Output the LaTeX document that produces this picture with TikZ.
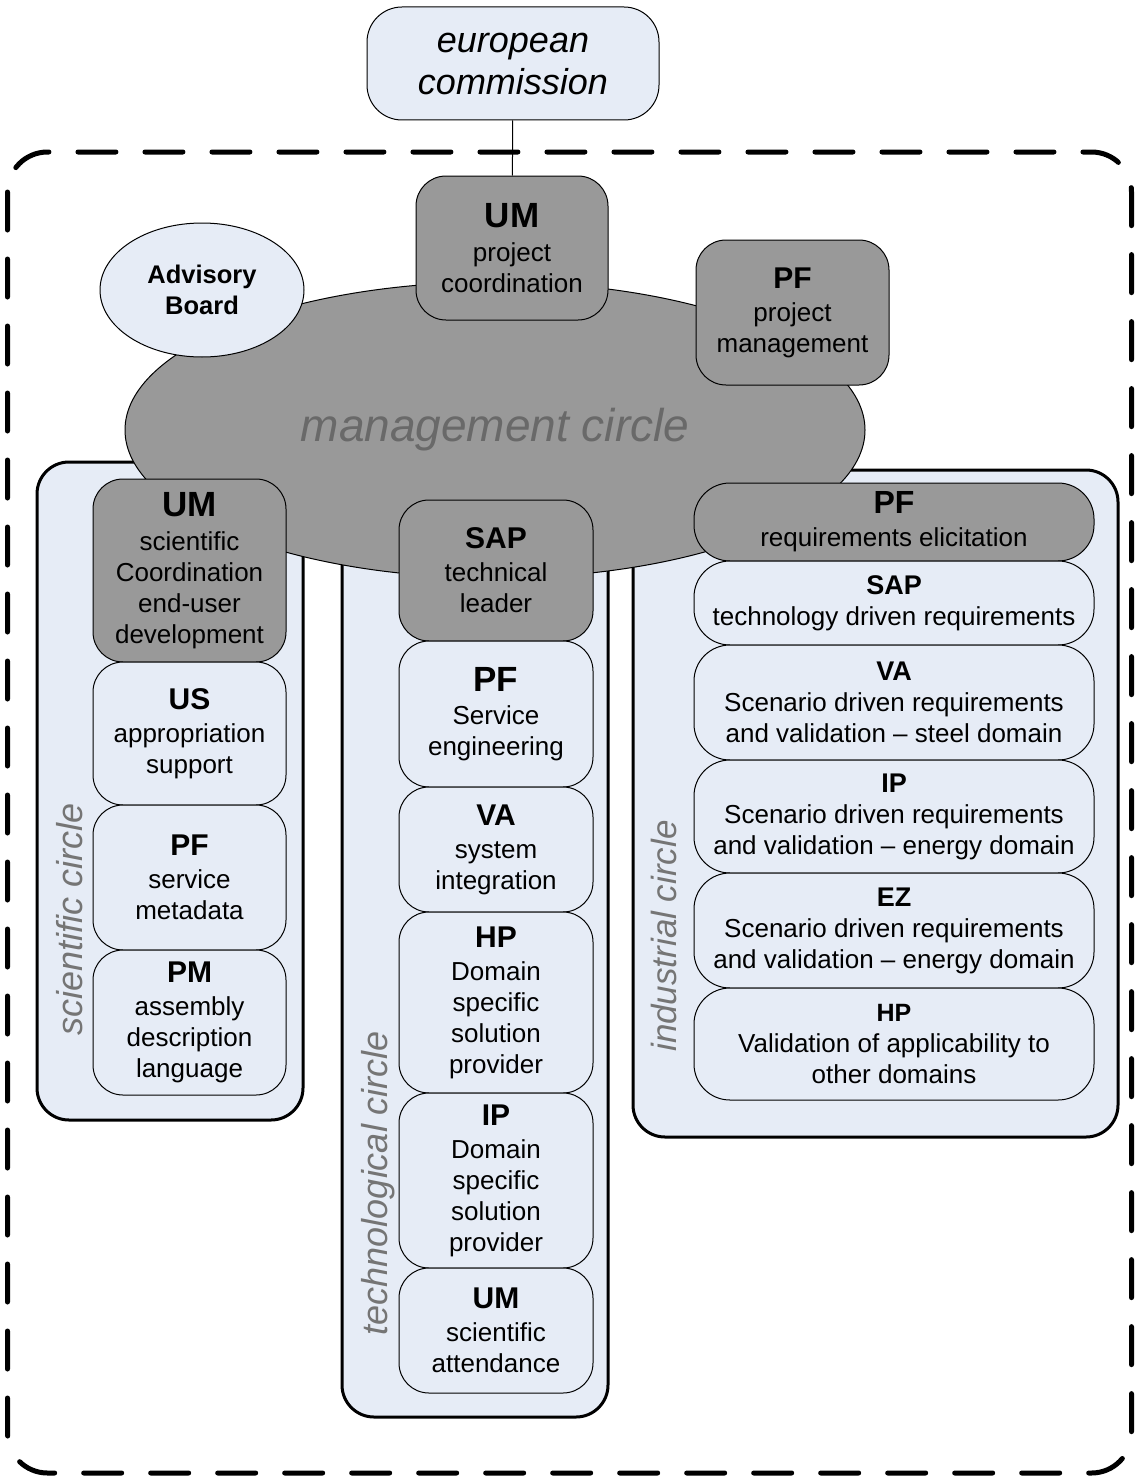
\documentclass[tikz,border=0pt]{standalone}
\usepackage{fontspec}
\setmainfont{Liberation Sans}
\usetikzlibrary{shapes.geometric}
\definecolor{lightbox}{HTML}{E6ECF6}
\definecolor{darkbox}{HTML}{999999}
\definecolor{circletext}{HTML}{757575}
\def\body{\fontsize{26}{31}\selectfont}
\def\hdr{\fontsize{30}{34}\selectfont\bfseries}
\def\bighdr{\fontsize{35}{38}\selectfont\bfseries}
\def\smhdr{\fontsize{27}{31}\selectfont\bfseries}
\tikzset{
	member/.style={draw=black, line width=1pt, fill=lightbox, rounded corners=30pt, inner sep=0pt, align=center, font=\body},
	lead/.style={member, fill=darkbox},
	scicol/.style={minimum width=193pt},
	techcol/.style={minimum width=194pt},
	indcol/.style={minimum width=400pt, rounded corners=36pt},
	circlebox/.style={draw=black, line width=3pt, fill=lightbox, rounded corners=32pt},
	circlelabel/.style={rotate=90, inner sep=0pt, text=circletext, font=\fontsize{36}{40}\selectfont\itshape},
}

\begin{document}
\begin{tikzpicture}[x=1pt, y=-1pt]
			%%%%% START %%%%%
			\useasboundingbox (0, 0) rectangle (1139, 1477);
			
			\draw[line width=5pt, dash pattern=on 38pt off 29pt, line cap=round, rounded corners=40pt] (7.5, 152) rectangle (1131.5, 1473);
			
			% the three circles
			\draw[circlebox] (37, 462) rectangle (303, 1120);
			\draw[circlebox] (342, 520) rectangle (608, 1417);
			\draw[circlebox] (633, 470) rectangle (1118, 1137);
			
			\node[circlelabel] (scilabel) at (70, 919) {scientific circle};
			\node[circlelabel] (techlabel) at (378, 1183) {technological circle};
			\node[circlelabel, font=\fontsize{35}{40}\selectfont\itshape] (indlabel) at (664, 936) {industrial circle};
			
			% management circle
			\node[ellipse, draw=black, line width=1pt, fill=darkbox, inner sep=0pt, minimum width=740pt, minimum height=296pt, text=circletext!90!black, font=\fontsize{46}{50}\selectfont\itshape] (mc) at (495, 430) {management circle};
			
			\node[ellipse, draw=black, line width=1pt, fill=lightbox, inner sep=0pt, minimum width=204pt, minimum height=134pt, align=center, font=\fontsize{25.5}{31}\selectfont\bfseries] (ab) at (202, 290) {Advisory\\Board};
			
			\node[lead, minimum width=192pt, minimum height=144pt] (pc) at (512, 248) {{\bighdr UM}\\[3pt]project\\coordination};
			\node[lead, minimum width=193pt, minimum height=145pt] (pm) at (792.5, 312.5) {{\hdr PF}\\[2pt]project\\management};
			
			% scientific circle
			\node[lead, scicol, minimum height=183pt] (sUM) at (189.5, 570.5) {{\bighdr UM}\\[3pt]scientific\\Coordination\\end-user\\development};
			\node[member, scicol, minimum height=143pt] (sUS) at (189.5, 733.5) {{\hdr US}\\[2pt]appropriation\\support};
			\node[member, scicol, minimum height=145pt] (sPF) at (189.5, 877.5) {{\hdr PF}\\[2pt]service\\metadata};
			\node[member, scicol, minimum height=145pt] (sPM) at (189.5, 1022.5) {{\hdr PM}\\[2pt]assembly\\description\\language};
			
			% technological circle
			\node[lead, techcol, minimum height=141pt] (tSAP) at (496, 570.5) {{\hdr SAP}\\[2pt]technical\\leader};
			\node[member, techcol, minimum height=146pt] (tPF) at (496, 714) {{\bighdr PF}\\[2pt]Service\\engineering};
			\node[member, techcol, minimum height=125pt] (tVA) at (496, 849.5) {{\hdr VA}\\[2pt]system\\integration};
			\node[member, techcol, minimum height=181pt] (tHP) at (496, 1002.5) {{\hdr HP}\\[2pt]Domain\\specific\\solution\\provider};
			\node[member, techcol, minimum height=175pt] (tIP) at (496, 1180.5) {{\hdr IP}\\[2pt]Domain\\specific\\solution\\provider};
			\node[member, techcol, minimum height=125pt] (tUM) at (496, 1330.5) {{\hdr UM}\\[2pt]scientific\\attendance};
			
			% industrial circle
			\node[lead, indcol, minimum height=78pt] (iPF) at (894, 522) {{\fontsize{32}{34}\selectfont\bfseries PF}\\[2pt]requirements elicitation};
			\node[member, indcol, minimum height=84pt] (iSAP) at (894, 603) {{\smhdr SAP}\\technology driven requirements};
			\node[member, indcol, minimum height=115pt] (iVA) at (894, 702.5) {{\smhdr VA}\\Scenario driven requirements\\and validation – steel domain};
			\node[member, indcol, minimum height=113pt] (iIP) at (894, 816.5) {{\smhdr IP}\\Scenario driven requirements\\and validation – energy domain};
			\node[member, indcol, minimum height=115pt] (iEZ) at (894, 930.5) {{\smhdr EZ}\\Scenario driven requirements\\and validation – energy domain};
			\node[member, indcol, minimum height=112pt] (iHP) at (894, 1044) {{\fontsize{25}{31}\selectfont\bfseries HP}\\Validation of applicability to\\other domains};
			
			% commission
			\node[member, rounded corners=35pt, minimum width=292pt, minimum height=113pt, font=\fontsize{36}{42}\selectfont\itshape] (ec) at (513, 63.5) {european\\commission};
			\draw[line width=1pt] (ec) -- (pc);
			
			%%%%% END %%%%%
		\end{tikzpicture}
\end{document}
